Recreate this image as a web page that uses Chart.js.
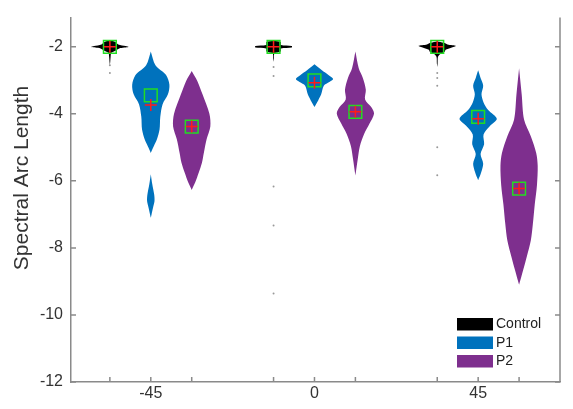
<!DOCTYPE html>
<html>
<head>
<meta charset="utf-8">
<script src="https://cdn.jsdelivr.net/npm/chart.js@4.4.1/dist/chart.umd.min.js"></script>
<style>
  html, body { margin: 0; padding: 0; background: #fff; }
  #wrap { width: 573px; height: 409px; }
</style>
</head>
<body>
<div id="wrap"><canvas id="violinChart"></canvas></div>
<script>
// ── Data ──────────────────────────────────────────────
const angleLabels = ['-45', '0', '45'];
const groupNames  = ['Control', 'P1', 'P2'];
const groupColors = ['#000000', '#0072BD', '#7E2F8E'];
const yTickValues = [-12, -10, -8, -6, -4, -2];

// violin profiles: y values and relative density (0..1)
const yCtrlM45 = [-1.80, -1.86, -1.93, -1.98, -2.01, -2.05, -2.12, -2.18, -2.30, -2.45, -2.55];
const dCtrlM45 = [0, 0.30, 0.45, 0.85, 1.00, 0.50, 0.30, 0.08, 0.04, 0.02, 0];
const yP1M45   = [-2.14, -2.55, -2.84, -3.13, -3.42, -3.72, -4.09, -4.47, -4.76, -4.97, -5.17];
const dP1M45   = [0, 0.25, 0.82, 1.00, 0.92, 0.63, 0.51, 0.47, 0.33, 0.16, 0];
const yP1M45b  = [-5.80, -6.10, -6.40, -6.60, -6.80, -7.00, -7.10];   // detached lower lobe
const dP1M45b  = [0, 0.08, 0.18, 0.20, 0.12, 0.04, 0];
const yP2M45   = [-2.72, -3.02, -3.42, -4.00, -4.38, -4.76, -5.17, -5.46, -5.75, -6.04, -6.27];
const dP2M45   = [0, 0.30, 0.58, 0.95, 1.00, 0.80, 0.65, 0.55, 0.38, 0.19, 0];

const yCtrl0 = [-1.82, -1.86, -1.95, -1.98, -2.02, -2.05, -2.14, -2.20, -2.35, -2.45];
const dCtrl0 = [0, 0.38, 0.40, 0.98, 0.98, 0.40, 0.38, 0.05, 0.02, 0];
const yP10   = [-2.52, -2.70, -2.84, -2.96, -3.05, -3.16, -3.42, -3.60, -3.80];
const dP10   = [0, 0.40, 0.75, 1.00, 0.80, 0.50, 0.36, 0.20, 0];
const yP20   = [-2.14, -2.64, -2.93, -3.28, -3.57, -3.80, -4.00, -4.29, -4.59, -4.97, -5.34, -5.84];
const dP20   = [0, 0.18, 0.40, 0.56, 0.52, 0.85, 1.00, 0.76, 0.48, 0.24, 0.13, 0];

const yCtrl45 = [-1.84, -1.88, -1.93, -1.97, -2.03, -2.09, -2.15, -2.22, -2.30, -2.50, -2.60];
const dCtrl45 = [0, 0.35, 0.55, 1.00, 0.75, 0.45, 0.40, 0.15, 0.04, 0.02, 0];
const yP145   = [-2.70, -2.93, -3.16, -3.42, -3.66, -3.89, -4.15, -4.38, -4.62, -4.91, -5.20, -5.49, -5.75, -5.98];
const dP145   = [0, 0.13, 0.27, 0.18, 0.29, 0.54, 1.00, 0.61, 0.29, 0.32, 0.13, 0.27, 0.16, 0];
const yP245   = [-2.64, -3.42, -4.18, -4.67, -5.17, -5.55, -6.13, -6.71, -7.29, -7.78, -8.25, -8.66, -9.10];
const dP245   = [0, 0.14, 0.27, 0.63, 0.92, 1.00, 0.96, 0.84, 0.74, 0.63, 0.42, 0.22, 0];

// per angle: [Control, P1, P2]
const meanValues   = [[-2.00, -3.45, -4.38], [-2.00, -3.00, -3.94], [-2.00, -4.09, -6.23]];
const medianValues = [[-2.00, -3.74, -4.38], [-2.00, -3.07, -3.94], [-2.00, -4.15, -6.23]];

// control outliers per angle
const ctrlOutliers = [[-2.55, -2.78], [-2.60, -2.87, -6.17, -7.33, -9.36], [-2.78, -2.93, -3.16, -5.00, -5.83]];

// each violin is a list of [y, density] pieces
const violins = [
    [[[yCtrlM45, dCtrlM45]], [[yP1M45, dP1M45], [yP1M45b, dP1M45b]], [[yP2M45, dP2M45]]],
    [[[yCtrl0, dCtrl0]],     [[yP10, dP10]],                           [[yP20, dP20]]],
    [[[yCtrl45, dCtrl45]],   [[yP145, dP145]],                         [[yP245, dP245]]],
];

// ── Layout helpers ────────────────────────────────────
const HALF_WIDTH = 0.455;           // max half width of a violin, in slot units
const slotOf = (a, g) => a * 4 + g + 1;
const FONT = "'Liberation Sans', Arial, sans-serif";
const AXIS_GRAY = '#8a8a8a';

function outline(x, ys, ds) {
    const pts = [];
    for (let i = 0; i < ys.length; i++) pts.push({ x: x + ds[i] * HALF_WIDTH, y: ys[i] });
    for (let i = ys.length - 1; i >= 0; i--) pts.push({ x: x - ds[i] * HALF_WIDTH, y: ys[i] });
    return pts;
}

const datasets = [];
violins.forEach((row, a) => {
    row.forEach((pieces, g) => {
        pieces.forEach(([ys, ds]) => {
            datasets.push({
                label: groupNames[g],
                data: outline(slotOf(a, g), ys, ds),
                showLine: true,
                fill: 'shape',
                backgroundColor: groupColors[g],
                borderColor: groupColors[g],
                borderWidth: 0,
                pointRadius: 0,
                tension: 0.3,
                order: 5,
            });
        });
    });
});

// lower order = drawn on top
datasets.push({
    label: 'outliers',
    data: ctrlOutliers.flatMap((vals, a) => vals.map(v => ({ x: slotOf(a, 0), y: v }))),
    pointRadius: 1,
    pointBackgroundColor: '#999',
    pointBorderWidth: 0,
    order: 3,
});
datasets.push({
    label: 'mean',
    data: meanValues.flatMap((vals, a) => vals.map((v, g) => ({ x: slotOf(a, g), y: v }))),
    pointStyle: 'rect',
    pointRadius: 9,
    pointBorderColor: '#22dd22',
    pointBackgroundColor: 'rgba(0,0,0,0)',
    pointBorderWidth: 1.5,
    order: 2,
});
datasets.push({
    label: 'median',
    data: medianValues.flatMap((vals, a) => vals.map((v, g) => ({ x: slotOf(a, g), y: v }))),
    pointStyle: 'cross',
    pointRadius: 6,
    pointBorderColor: '#ff1a1a',
    pointBorderWidth: 1.5,
    order: 1,
});

// ── Decorations: box, inward ticks, y title, legend ───
const decorPlugin = {
    id: 'decor',
    afterDraw(chart) {
        const { ctx, chartArea: ca, scales } = chart;
        ctx.save();
        ctx.strokeStyle = AXIS_GRAY;
        ctx.lineWidth = 1.5;
        ctx.beginPath();
        ctx.moveTo(ca.right, ca.top);
        ctx.lineTo(ca.right, ca.bottom);
        scales.x.ticks.forEach(t => {
            const px = scales.x.getPixelForValue(t.value);
            ctx.moveTo(px, ca.bottom);
            ctx.lineTo(px, ca.bottom - 5);
        });
        scales.y.ticks.forEach(t => {
            const py = scales.y.getPixelForValue(t.value);
            ctx.moveTo(ca.left, py);
            ctx.lineTo(ca.left + 5, py);
            ctx.moveTo(ca.right, py);
            ctx.lineTo(ca.right - 5, py);
        });
        ctx.stroke();

        // y axis title
        ctx.fillStyle = '#333';
        ctx.font = '21px ' + FONT;
        ctx.textAlign = 'center';
        ctx.textBaseline = 'middle';
        ctx.translate(22, 178);
        ctx.rotate(-Math.PI / 2);
        ctx.fillText('Spectral Arc Length', 0, 0);
        ctx.restore();

        // legend
        ctx.save();
        ctx.font = '14px ' + FONT;
        ctx.textAlign = 'left';
        ctx.textBaseline = 'middle';
        groupNames.forEach((name, g) => {
            const y0 = ca.bottom - 64 + g * 18.5;
            ctx.fillStyle = groupColors[g];
            ctx.fillRect(ca.right - 103, y0, 36, 12.5);
            ctx.fillStyle = '#222';
            ctx.fillText(name, ca.right - 64, y0 + 6.5);
        });
        ctx.restore();
    }
};

new Chart(document.getElementById('violinChart'), {
    type: 'scatter',
    data: { datasets },
    options: {
        responsive: true,
        maintainAspectRatio: false,
        animation: false,
        layout: { padding: { top: 8, right: 13, left: 0, bottom: 0 } },
        plugins: {
            legend: { display: false },
            tooltip: { enabled: false },
        },
        scales: {
            x: {
                type: 'linear',
                min: 0.05,
                max: 12,
                grid: { display: false, drawTicks: false },
                border: { display: true, color: AXIS_GRAY, width: 1.5 },
                afterBuildTicks: s => { s.ticks = [1, 2, 3, 5, 6, 7, 9, 10, 11].map(v => ({ value: v })); },
                afterFit: s => { s.height = 27; },
                ticks: {
                    autoSkip: false,
                    maxRotation: 0,
                    padding: 2,
                    color: '#333',
                    font: { family: FONT, size: 16 },
                    callback: v => ({ 2: angleLabels[0], 6: angleLabels[1], 10: angleLabels[2] }[v] || ''),
                },
            },
            y: {
                min: -12,
                max: -1.13,
                grid: { display: false, drawTicks: false },
                border: { display: true, color: AXIS_GRAY, width: 1.5 },
                afterBuildTicks: s => { s.ticks = yTickValues.map(v => ({ value: v })); },
                afterFit: s => { s.width = 71; },
                ticks: {
                    padding: 8,
                    color: '#333',
                    font: { family: FONT, size: 16 },
                },
            },
        },
    },
    plugins: [decorPlugin],
});
</script>
</body>
</html>
